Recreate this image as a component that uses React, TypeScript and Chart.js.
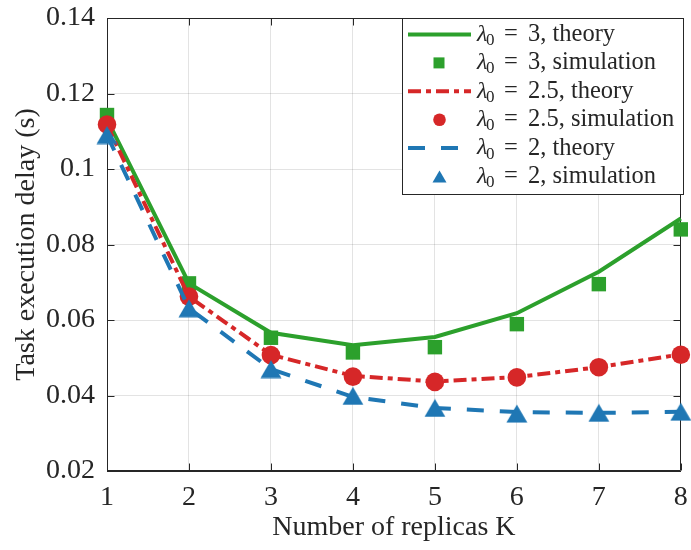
import React, { useEffect, useRef } from 'react';
import { Chart, registerables } from 'chart.js';

Chart.register(...registerables);

// ---------------- data ----------------
const replicas = [1, 2, 3, 4, 5, 6, 7, 8];
const theoryL3 = [0.1132, 0.0697, 0.0566, 0.0533, 0.0555, 0.0618, 0.0728, 0.0869];
const simL3 = [0.1143, 0.0697, 0.0553, 0.0514, 0.0528, 0.0589, 0.0695, 0.0840];
const theoryL25 = [0.1116, 0.0662, 0.0508, 0.0452, 0.0437, 0.0449, 0.0475, 0.0509];
const simL25 = [0.1118, 0.0662, 0.0507, 0.0450, 0.0436, 0.0448, 0.0475, 0.0508];
const theoryL2 = [0.1090, 0.0631, 0.0470, 0.0396, 0.0367, 0.0356, 0.0354, 0.0357];
const simL2 = [0.1090, 0.0631, 0.0470, 0.0399, 0.0367, 0.0352, 0.0354, 0.0357];

const lambdaValues = ['3', '3', '2.5', '2.5', '2', '2'];
const legendKinds = ['theory', 'simulation', 'theory', 'simulation', 'theory', 'simulation'];
const xTitle = 'Number of replicas K';
const yTitle = 'Task execution delay (s)';
const yMin = 0.02;
const yMax = 0.14;
const yStep = 0.02;

// ---------------- styles ----------------
const GREEN = '#2ca02c';
const RED = '#d62728';
const BLUE = '#1f77b4';
const AXIS = '#262626';
const GRID = 'rgba(38,38,38,0.13)';
const FONT = '"Liberation Serif", "Times New Roman", serif';
const DASH_DOT = [13, 5, 5, 5];
const DASHED = [17, 16];

function makeTriangle(w: number, h: number, color: string) {
  const c = document.createElement('canvas');
  c.width = Math.ceil(w) + 1;
  c.height = Math.ceil(h) + 1;
  const g = c.getContext('2d')!;
  const cx = c.width / 2;
  const cy = c.height / 2;
  g.fillStyle = color;
  g.beginPath();
  g.moveTo(cx, cy - h / 2);
  g.lineTo(cx + w / 2, cy + h / 2);
  g.lineTo(cx - w / 2, cy + h / 2);
  g.closePath();
  g.fill();
  return c;
}

function toPoints(ys: number[]) {
  return replicas.map((k, i) => ({ x: k, y: ys[i] }));
}

export default function App() {
  const ref = useRef<HTMLCanvasElement | null>(null);

  useEffect(() => {
    const canvas = ref.current;
    if (!canvas) return;
    const tri = makeTriangle(21, 18, BLUE);

    const legendItems = [
      { color: GREEN, kind: 'line', dash: [] as number[] },
      { color: GREEN, kind: 'square', dash: [] as number[] },
      { color: RED, kind: 'line', dash: DASH_DOT },
      { color: RED, kind: 'circle', dash: [] as number[] },
      { color: BLUE, kind: 'line', dash: DASHED },
      { color: BLUE, kind: 'triangle', dash: [] as number[] },
    ];

    const framePlugin = {
      id: 'frame',
      beforeDatasetsDraw(chart: any) {
        const { ctx, chartArea: a, scales } = chart;
        const L = Math.round(a.left) + 0.5;
        const R = Math.round(a.right) - 0.5;
        const T = Math.round(a.top) + 0.5;
        const B = Math.round(a.bottom) - 0.5;
        ctx.save();
        ctx.strokeStyle = AXIS;
        ctx.lineWidth = 1;
        ctx.beginPath();
        ctx.moveTo(L, T);
        ctx.lineTo(R, T);
        ctx.lineTo(R, B);
        ctx.lineTo(L, B);
        ctx.closePath();
        const tl = 7;
        scales.y.ticks.forEach((t: any) => {
          const y = Math.round(scales.y.getPixelForValue(t.value)) + 0.5;
          ctx.moveTo(L, y);
          ctx.lineTo(L + tl, y);
          ctx.moveTo(R, y);
          ctx.lineTo(R - tl, y);
        });
        scales.x.ticks.forEach((t: any) => {
          const x = Math.round(scales.x.getPixelForValue(t.value)) + 0.5;
          ctx.moveTo(x, B);
          ctx.lineTo(x, B - tl);
          ctx.moveTo(x, T);
          ctx.lineTo(x, T + tl);
        });
        ctx.stroke();
        ctx.restore();
      },
      afterDatasetsDraw(chart: any) {
        const { ctx, chartArea: a } = chart;
        const bx = 402.5;
        const by = Math.round(a.top) + 0.5;
        const bw = 281;
        const bh = 176;
        ctx.save();
        ctx.fillStyle = '#ffffff';
        ctx.fillRect(bx, by, bw, bh);
        ctx.strokeStyle = AXIS;
        ctx.lineWidth = 1;
        ctx.strokeRect(bx, by, bw, bh);
        legendItems.forEach((it, i) => {
          const y = by + 16 + i * 28.4;
          if (it.kind === 'line') {
            ctx.strokeStyle = it.color;
            ctx.lineWidth = 4;
            ctx.setLineDash(it.dash);
            ctx.beginPath();
            ctx.moveTo(408, y);
            ctx.lineTo(471, y);
            ctx.stroke();
            ctx.setLineDash([]);
          } else if (it.kind === 'square') {
            ctx.fillStyle = it.color;
            ctx.fillRect(439 - 5.5, y - 5.5, 11, 11);
          } else if (it.kind === 'circle') {
            ctx.fillStyle = it.color;
            ctx.beginPath();
            ctx.arc(439.5, y, 6.3, 0, Math.PI * 2);
            ctx.fill();
          } else {
            ctx.fillStyle = it.color;
            ctx.beginPath();
            ctx.moveTo(439.5, y - 6);
            ctx.lineTo(446.5, y + 6);
            ctx.lineTo(432.5, y + 6);
            ctx.closePath();
            ctx.fill();
          }
          ctx.fillStyle = AXIS;
          ctx.textBaseline = 'middle';
          ctx.textAlign = 'left';
          ctx.font = `italic 24px ${FONT}`;
          ctx.fillText('λ', 477, y);
          ctx.font = `17px ${FONT}`;
          ctx.fillText('0', 486, y + 6);
          ctx.font = `24.5px ${FONT}`;
          ctx.fillText('=', 504, y);
          ctx.fillText(`${lambdaValues[i]}, ${legendKinds[i]}`, 528, y);
        });
        ctx.restore();
      },
      afterDraw(chart: any) {
        const { ctx, chartArea: a } = chart;
        ctx.save();
        ctx.fillStyle = AXIS;
        ctx.font = `28px ${FONT}`;
        ctx.textAlign = 'center';
        ctx.textBaseline = 'middle';
        ctx.fillText(xTitle, (a.left + a.right) / 2, 528);
        ctx.translate(27, (a.top + a.bottom) / 2);
        ctx.rotate(-Math.PI / 2);
        ctx.fillText(yTitle, 0, 0);
        ctx.restore();
      },
    };

    const chart = new Chart(canvas, {
      type: 'line',
      data: {
        datasets: [
          {
            label: 'λ0 = 3, theory',
            data: toPoints(theoryL3),
            borderColor: GREEN,
            borderWidth: 4,
            pointRadius: 0,
            order: 6,
            clip: false,
          },
          {
            label: 'λ0 = 3, simulation',
            data: toPoints(simL3),
            showLine: false,
            pointStyle: 'rect',
            pointRadius: 10.2,
            pointBackgroundColor: GREEN,
            pointBorderWidth: 0,
            borderColor: GREEN,
            order: 5,
            clip: false,
          },
          {
            label: 'λ0 = 2.5, theory',
            data: toPoints(theoryL25),
            borderColor: RED,
            borderWidth: 4,
            borderDash: DASH_DOT,
            pointRadius: 0,
            order: 4,
            clip: false,
          },
          {
            label: 'λ0 = 2.5, simulation',
            data: toPoints(simL25),
            showLine: false,
            pointStyle: 'circle',
            pointRadius: 9.3,
            pointBackgroundColor: RED,
            pointBorderWidth: 0,
            borderColor: RED,
            order: 3,
            clip: false,
          },
          {
            label: 'λ0 = 2, theory',
            data: toPoints(theoryL2),
            borderColor: BLUE,
            borderWidth: 4,
            borderDash: DASHED,
            pointRadius: 0,
            order: 2,
            clip: false,
          },
          {
            label: 'λ0 = 2, simulation',
            data: toPoints(simL2),
            showLine: false,
            pointStyle: tri as any,
            pointRadius: 10,
            pointBackgroundColor: BLUE,
            pointBorderWidth: 0,
            borderColor: BLUE,
            order: 1,
            clip: false,
          },
        ] as any,
      },
      options: {
        responsive: false,
        animation: false,
        events: [],
        layout: { padding: { left: 0, right: 8, top: 18, bottom: 0 } },
        plugins: {
          legend: { display: false },
          tooltip: { enabled: false },
        },
        scales: {
          x: {
            type: 'linear',
            min: 1,
            max: 8,
            afterFit: (s: any) => {
              s.height = 79;
              s.paddingLeft = 0;
              s.paddingRight = 0;
              s.paddingTop = 0;
              s.paddingBottom = 0;
            },
            ticks: {
              stepSize: 1,
              padding: 10,
              color: AXIS,
              font: { family: FONT, size: 28 },
              callback: (v: any) => String(v),
            },
            grid: { color: GRID, lineWidth: 1, drawTicks: false },
            border: { color: AXIS, width: 1 },
          },
          y: {
            type: 'linear',
            min: yMin,
            max: yMax,
            afterFit: (s: any) => {
              s.width = 107;
              s.paddingLeft = 0;
              s.paddingRight = 0;
              s.paddingTop = 0;
              s.paddingBottom = 0;
            },
            ticks: {
              stepSize: yStep,
              padding: 12,
              color: AXIS,
              font: { family: FONT, size: 28 },
              callback: (v: any) => String(+Number(v).toFixed(2)),
            },
            grid: { color: GRID, lineWidth: 1, drawTicks: false },
            border: { color: AXIS, width: 1 },
          },
        },
      },
      plugins: [framePlugin],
    } as any);

    return () => chart.destroy();
  }, []);

  return (
    <div style={{ position: 'fixed', left: 0, top: 0, width: 691, height: 550, background: '#fff' }}>
      <canvas ref={ref} width={691} height={550} style={{ display: 'block' }} />
    </div>
  );
}
